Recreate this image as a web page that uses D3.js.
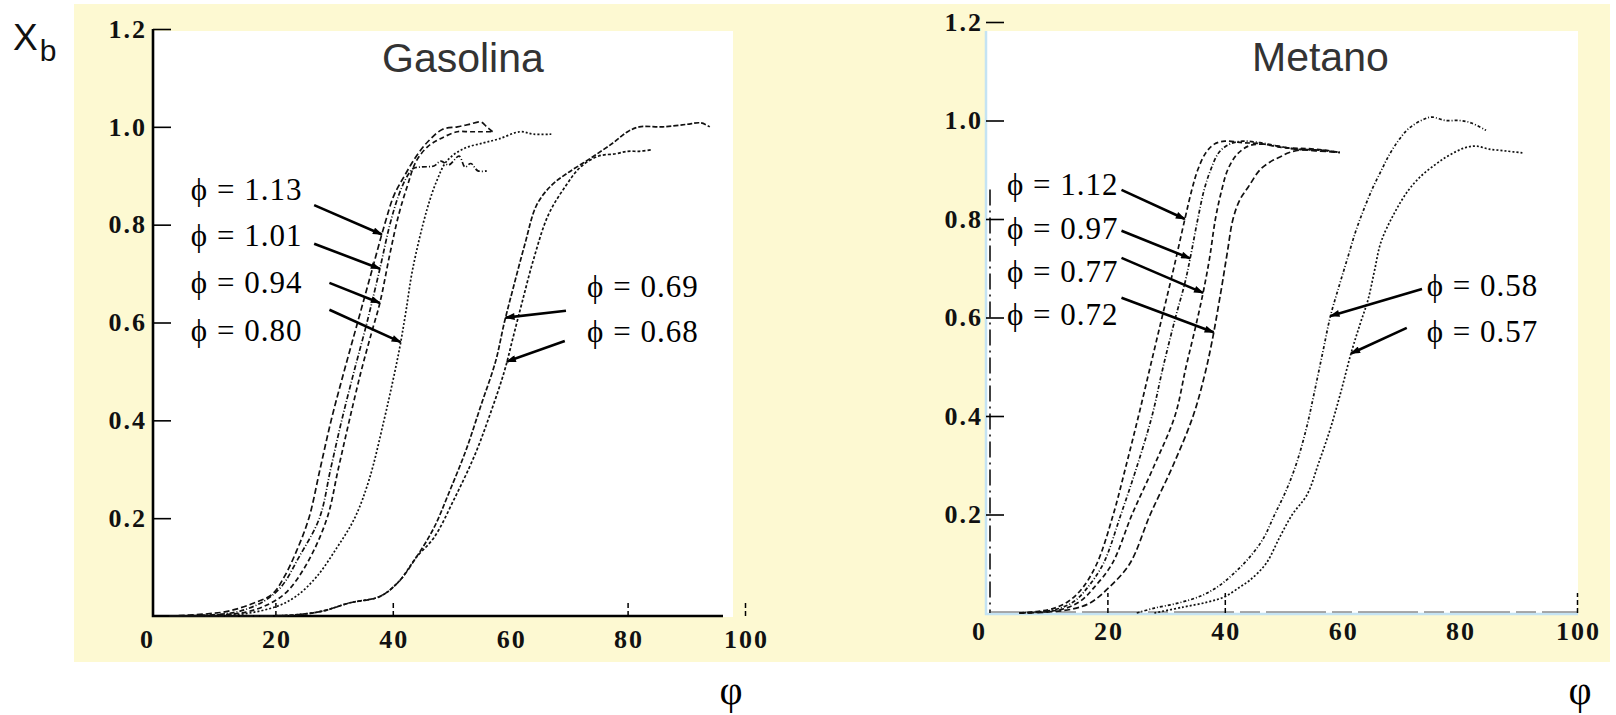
<!DOCTYPE html>
<html>
<head>
<meta charset="utf-8">
<script src="https://cdn.jsdelivr.net/npm/d3@7"></script>
<style>
  html, body { margin: 0; padding: 0; background: #fff; }
  svg { display: block; }
</style>
</head>
<body>
<svg id="chart" width="1616" height="715"></svg>
<script>
// ---- axis values ----
const xDomain = [0, 100];
const yDomain = [0, 1.2];
const xTickLabels = [0, 20, 40, 60, 80, 100];
const yTickLabels = [0.2, 0.4, 0.6, 0.8, 1.0, 1.2];
const gasTickMarks = [20, 40, 80, 100];
const metTickMarks = [20, 40, 100];

// ---- burned mass fraction X_b vs crank angle, gasoline ----
const gas113 = [[2,0],[8,0.004],[12,0.01],[16,0.025],[19.5,0.045],[21.5,0.08],[23.5,0.13],[25.7,0.2],[27.6,0.3],[29.5,0.4],[31.7,0.5],[34,0.6],[36.3,0.7],[38.6,0.8],[40.2,0.86],[42,0.9],[44,0.94],[46,0.97],[48.5,0.995],[51,1.0],[53,1.005],[55,1.01],[56,1.0],[57,0.99]];
const gas101 = [[2,0],[10,0.003],[14,0.01],[18,0.03],[21,0.06],[24,0.12],[27.5,0.2],[29.4,0.3],[31.3,0.4],[33.4,0.5],[35.6,0.6],[37.8,0.71],[39.5,0.8],[41,0.86],[42.5,0.9],[43.5,0.915],[45,0.918],[47,0.92],[48.2,0.93],[49.5,0.922],[51.3,0.94],[52.3,0.918],[53.3,0.925],[54.5,0.91],[56,0.91]];
const gas094 = [[2,0],[10,0.002],[15,0.008],[19,0.025],[22,0.05],[25.5,0.11],[28.8,0.2],[30.7,0.3],[32.6,0.4],[34.6,0.5],[36.4,0.58],[37.8,0.64],[39.5,0.74],[41,0.82],[42.5,0.88],[44,0.93],[46,0.96],[48,0.975],[51,0.99],[53,0.99],[55,0.99],[57,0.99]];
const gas080 = [[2,0],[10,0.001],[15,0.005],[20.3,0.02],[23.5,0.04],[27,0.08],[30.5,0.14],[33.5,0.2],[36,0.28],[38.5,0.4],[40,0.48],[41.2,0.55],[42.2,0.62],[43.4,0.71],[45.8,0.83],[47.5,0.89],[49.2,0.93],[52,0.955],[55.4,0.967],[58,0.975],[61.7,0.99],[64,0.985],[67,0.985]];
const gas069 = [[2,0],[15,0],[23,0.002],[28,0.01],[32.7,0.027],[37.8,0.04],[41,0.07],[44,0.12],[47,0.18],[49.5,0.25],[52.5,0.34],[55,0.43],[57.5,0.52],[59,0.6],[60.5,0.67],[62.5,0.76],[64.5,0.84],[67,0.88],[69.7,0.905],[73.6,0.935],[77.5,0.967],[80,0.99],[82,1.0],[86,1.0],[90,1.005],[92.5,1.008],[94,1.0]];
const gas068 = [[2,0],[15,0],[23,0.002],[28,0.01],[32.7,0.027],[37.8,0.04],[41,0.07],[44,0.12],[47,0.16],[50.5,0.24],[54,0.33],[56.5,0.41],[59,0.5],[60.5,0.57],[62,0.64],[64,0.73],[66.5,0.82],[69.5,0.88],[72,0.918],[75,0.94],[78,0.945],[80,0.95],[82,0.95],[84,0.953]];

// ---- burned mass fraction X_b vs crank angle, methane ----
const met112 = [[5,0],[8,0.003],[11,0.01],[13.5,0.025],[15.7,0.05],[18.2,0.1],[21,0.2],[23.2,0.3],[25.3,0.4],[27.3,0.5],[29.3,0.6],[31.3,0.7],[33.2,0.8],[34.4,0.86],[35.4,0.9],[36.8,0.935],[38.2,0.952],[40,0.958],[43,0.955],[46,0.953],[50,0.945],[54,0.943],[57,0.94],[59.6,0.935]];
const met097 = [[5,0],[9,0.003],[12,0.01],[14.5,0.025],[16.5,0.05],[19.3,0.1],[22.3,0.2],[25.1,0.3],[27.6,0.4],[29.5,0.5],[31.6,0.6],[33.2,0.67],[34.1,0.72],[35.4,0.8],[36.5,0.86],[37.6,0.9],[39,0.935],[40.8,0.952],[43,0.958],[46,0.955],[49,0.948],[52,0.942],[56,0.94],[59.6,0.935]];
const met077 = [[5,0],[10,0.003],[13,0.01],[15.5,0.025],[17.6,0.05],[20.8,0.1],[24.2,0.2],[28,0.3],[31.5,0.4],[33.4,0.5],[35,0.58],[36.3,0.65],[37.4,0.72],[38.4,0.8],[39.5,0.86],[40.5,0.9],[42,0.93],[44,0.948],[46,0.952],[49,0.948],[52,0.942],[56,0.94],[59.6,0.935]];
const met072 = [[5,0],[10,0.002],[14,0.008],[17,0.02],[20.1,0.05],[23.8,0.1],[27.3,0.2],[31.2,0.3],[34.6,0.4],[36.5,0.48],[37.8,0.55],[39.3,0.65],[40.4,0.73],[41.4,0.8],[42.6,0.84],[44,0.865],[46,0.9],[48,0.918],[49.4,0.926],[51,0.935],[53,0.94],[56,0.938],[59.6,0.935]];
const met058 = [[25,0],[28,0.01],[32,0.02],[36,0.035],[39,0.055],[41.5,0.08],[44,0.11],[46.5,0.15],[48.5,0.2],[50.5,0.25],[52.3,0.307],[54,0.38],[55.2,0.445],[56.7,0.53],[58,0.603],[59.5,0.665],[60.9,0.72],[62.3,0.775],[63.7,0.82],[65.2,0.863],[66.6,0.897],[68,0.93],[69.5,0.958],[71,0.98],[72.4,0.993],[74,1.003],[75.3,1.007],[77.6,1.0],[80,1.0],[82,0.995],[84.5,0.98]];
const met057 = [[28,0],[32.9,0.012],[37,0.022],[40,0.033],[42.6,0.053],[44.3,0.067],[47,0.1],[49.4,0.155],[51.5,0.2],[54,0.24],[56,0.305],[58,0.375],[59.8,0.45],[61.5,0.527],[63,0.585],[64.4,0.636],[65.5,0.695],[66.6,0.753],[68.8,0.81],[71.2,0.857],[73.5,0.888],[75.8,0.91],[77.6,0.925],[79.4,0.937],[81,0.945],[82.8,0.948],[85,0.942],[88,0.938],[90.8,0.934]];

const gasPhi = ["1.13", "1.01", "0.94", "0.80", "0.69", "0.68"];
const metPhi = ["1.12", "0.97", "0.77", "0.72", "0.58", "0.57"];

const svg = d3.select("#chart");

// arrow head for the leader lines
svg.append("defs").append("marker")
  .attr("id", "arrow")
  .attr("viewBox", "0 0 10 7")
  .attr("refX", 9).attr("refY", 3.5)
  .attr("markerUnits", "userSpaceOnUse")
  .attr("markerWidth", 11).attr("markerHeight", 7)
  .attr("orient", "auto")
  .append("path").attr("d", "M0,0 L10,3.5 L0,7 Z").attr("fill", "#000");

// cream backdrop behind both panels
svg.append("rect")
  .attr("x", 74).attr("y", 4).attr("width", 1536).attr("height", 658)
  .attr("fill", "#fdf9d2");

const serif = "'Liberation Serif', 'Times New Roman', serif";
const sans = "'Liberation Sans', Arial, sans-serif";

// first X value where a series reaches the given fraction
function crossing(values, yv) {
  for (let i = 1; i < values.length; i++) {
    const [x0, y0] = values[i - 1], [x1, y1] = values[i];
    if (y0 <= yv && y1 >= yv) {
      const t = y1 === y0 ? 0 : (yv - y0) / (y1 - y0);
      return [x0 + t * (x1 - x0), yv];
    }
  }
  return values[values.length - 1];
}

function drawPanel(p) {
  const x = d3.scaleLinear().domain(xDomain).range(p.xRange);
  const y = d3.scaleLinear().domain(yDomain).range(p.yRange);
  const g = svg.append("g");

  // white plotting field
  g.append("rect")
    .attr("x", p.field[0]).attr("y", p.field[1])
    .attr("width", p.field[2] - p.field[0]).attr("height", p.field[3] - p.field[1])
    .attr("fill", "#fff");

  // axis lines
  if (p.scanAxes) {
    g.append("path")
      .attr("d", `M${p.axisX},${p.field[1]} V${p.axisY + 1} H${p.field[2]}`)
      .attr("fill", "none").attr("stroke", "#c4e3f3").attr("stroke-width", 2.5);
    g.append("line")
      .attr("x1", p.axisX + 4).attr("x2", p.axisX + 4)
      .attr("y1", y(0.86)).attr("y2", p.axisY)
      .attr("stroke", "#111").attr("stroke-width", 1.6)
      .attr("stroke-dasharray", "16,5,2,5");
    g.append("line")
      .attr("x1", p.axisX + 4).attr("x2", x(100))
      .attr("y1", p.axisY - 1).attr("y2", p.axisY - 1)
      .attr("stroke", "#555").attr("stroke-width", 1.2)
      .attr("stroke-dasharray", "60,6,20,6");
  } else {
    g.append("path")
      .attr("d", `M${p.axisX},${y(1.2)} V${p.axisY} H${p.axisEnd}`)
      .attr("fill", "none").attr("stroke", "#000").attr("stroke-width", 2.6);
  }

  // y ticks and labels
  const ya = g.append("g")
    .attr("transform", `translate(${p.axisX},0)`)
    .call(d3.axisLeft(y).tickValues(yTickLabels).tickFormat(d3.format(".1f"))
      .tickSizeInner(-18).tickSizeOuter(0).tickPadding(p.yPad));
  ya.select(".domain").remove();
  ya.selectAll(".tick line").attr("stroke", "#000").attr("stroke-width", 1.6);
  ya.selectAll(".tick text")
    .attr("font-family", serif).attr("font-size", 26).attr("font-weight", 700)
    .attr("letter-spacing", 2).attr("fill", "#111");

  // x tick labels
  const xa = g.append("g")
    .attr("transform", `translate(0,${p.axisY})`)
    .call(d3.axisBottom(x).tickValues(xTickLabels).tickSize(0).tickPadding(p.xPad));
  xa.select(".domain").remove();
  xa.selectAll(".tick text")
    .attr("font-family", serif).attr("font-size", 26).attr("font-weight", 700)
    .attr("letter-spacing", 2).attr("fill", "#111")
    .attr("dx", d => d === 0 ? -11 : 1);

  // x tick marks (short dashed risers)
  const xm = g.append("g")
    .attr("transform", `translate(0,${p.axisY})`)
    .call(d3.axisBottom(x).tickValues(p.tickMarks).tickSizeInner(-p.tickLen).tickSizeOuter(0).tickFormat(""));
  xm.select(".domain").remove();
  xm.selectAll(".tick line").attr("stroke", "#000").attr("stroke-width", 1.5)
    .attr("stroke-dasharray", "5,3");

  // burn curves
  const line = d3.line().x(d => x(d[0])).y(d => y(d[1])).curve(d3.curveCatmullRom.alpha(0.5));
  p.series.forEach(s => {
    g.append("path")
      .attr("d", line(s.values))
      .attr("fill", "none").attr("stroke", "#111").attr("stroke-width", 1.7)
      .attr("stroke-dasharray", s.dash);
  });

  // equivalence-ratio labels with leader arrows
  p.series.forEach(s => {
    const a = s.note;
    g.append("text")
      .attr("x", x(a.tx)).attr("y", y(a.ty))
      .attr("font-family", serif).attr("font-size", 31).attr("letter-spacing", 1)
      .attr("fill", "#000")
      .text("\u03D5 = " + s.phi);
    const tip = crossing(s.values, a.at);
    g.append("line")
      .attr("x1", x(a.sx)).attr("y1", y(a.sy))
      .attr("x2", x(tip[0])).attr("y2", y(tip[1]))
      .attr("stroke", "#000").attr("stroke-width", 2.6)
      .attr("marker-end", "url(#arrow)");
  });

  // panel title
  g.append("text")
    .attr("x", p.title.x).attr("y", p.title.y)
    .attr("font-family", sans).attr("font-size", 41).attr("fill", "#333")
    .text(p.title.text);

  // crank angle symbol under the axis
  g.append("text")
    .attr("x", p.phiX).attr("y", 704).attr("text-anchor", "middle")
    .attr("font-family", serif).attr("font-size", 40).attr("fill", "#000")
    .text("\u03C6");
}

drawPanel({
  xRange: [158, 745], yRange: [616, 29],
  field: [153, 31, 733, 617],
  axisX: 153, axisY: 616, axisEnd: 723,
  yPad: 6, xPad: 14, tickMarks: gasTickMarks, tickLen: 14,
  scanAxes: false,
  title: { text: "Gasolina", x: 382, y: 72 },
  phiX: 731,
  series: [
    { values: gas113, phi: gasPhi[0], dash: "6,3",      note: { tx: 5.6,  ty: 0.851, sx: 26.6, sy: 0.840, at: 0.78 } },
    { values: gas101, phi: gasPhi[1], dash: "5,2,1,2",  note: { tx: 5.6,  ty: 0.757, sx: 26.6, sy: 0.761, at: 0.71 } },
    { values: gas094, phi: gasPhi[2], dash: "5,3",      note: { tx: 5.6,  ty: 0.660, sx: 29.2, sy: 0.681, at: 0.64 } },
    { values: gas080, phi: gasPhi[3], dash: "2,2",      note: { tx: 5.6,  ty: 0.562, sx: 29.2, sy: 0.626, at: 0.56 } },
    { values: gas069, phi: gasPhi[4], dash: "5,2",      note: { tx: 73.1, ty: 0.652, sx: 69.5, sy: 0.624, at: 0.61 } },
    { values: gas068, phi: gasPhi[5], dash: "3,2",      note: { tx: 73.1, ty: 0.560, sx: 69.3, sy: 0.562, at: 0.52 } }
  ]
});

drawPanel({
  xRange: [990, 1577], yRange: [613, 22],
  field: [986, 31, 1578, 614],
  axisX: 986, axisY: 613, axisEnd: 1577,
  yPad: 3, xPad: 9, tickMarks: metTickMarks, tickLen: 20,
  scanAxes: true,
  title: { text: "Metano", x: 1252, y: 71 },
  phiX: 1580,
  series: [
    { values: met112, phi: metPhi[0], dash: "5,3",      note: { tx: 2.9,  ty: 0.849, sx: 22.4, sy: 0.859, at: 0.80 } },
    { values: met097, phi: metPhi[1], dash: "4,2,1,2",  note: { tx: 2.9,  ty: 0.759, sx: 22.4, sy: 0.776, at: 0.72 } },
    { values: met077, phi: metPhi[2], dash: "5,3",      note: { tx: 2.9,  ty: 0.672, sx: 22.4, sy: 0.721, at: 0.65 } },
    { values: met072, phi: metPhi[3], dash: "6,3",      note: { tx: 2.9,  ty: 0.585, sx: 22.4, sy: 0.640, at: 0.57 } },
    { values: met058, phi: metPhi[4], dash: "3,2,1,2",  note: { tx: 74.4, ty: 0.644, sx: 73.6, sy: 0.658, at: 0.603 } },
    { values: met057, phi: metPhi[5], dash: "2,2",      note: { tx: 74.4, ty: 0.550, sx: 71.0, sy: 0.579, at: 0.527 } }
  ]
});

// ordinate symbol X_b
svg.append("text")
  .attr("x", 13).attr("y", 50)
  .attr("font-family", sans).attr("font-size", 37).attr("fill", "#111")
  .text("X")
  .append("tspan").attr("dx", 2).attr("dy", 11).attr("font-size", 30).text("b");
</script>
</body>
</html>
